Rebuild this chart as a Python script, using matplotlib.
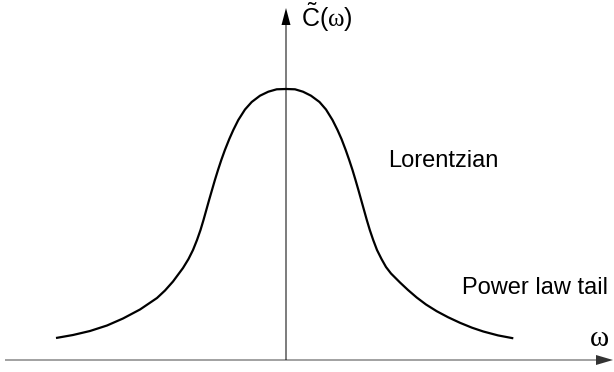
import matplotlib
matplotlib.use("Agg")
import matplotlib.pyplot as plt

# ------------------ Data (arbitrary units) ------------------
omega = [-2.30, -2.13, -1.96, -1.79, -1.63, -1.46, -1.29, -1.21, -1.13, -1.03,
         -0.975, -0.93, -0.89, -0.855, -0.825, -0.797, -0.769, -0.740, -0.711,
         -0.680, -0.647, -0.611, -0.567, -0.527, -0.477, -0.41, -0.343, -0.26,
         -0.177, -0.093, 0.00,
         0.09, 0.17, 0.25, 0.335, 0.40, 0.465, 0.515, 0.555, 0.597, 0.632,
         0.665, 0.695, 0.724, 0.752, 0.78, 0.808, 0.838, 0.872, 0.91, 0.955,
         1.00, 1.05, 1.14, 1.22, 1.307, 1.40, 1.507, 1.62, 1.74, 1.86, 1.973,
         2.12, 2.273]
C_tilde = [0.22, 0.25, 0.29, 0.345, 0.415, 0.505, 0.62, 0.695, 0.785, 0.92,
           1.01, 1.10, 1.20, 1.30, 1.40, 1.50, 1.60, 1.70, 1.80,
           1.90, 2.00, 2.10, 2.21, 2.30, 2.40, 2.505, 2.58, 2.643,
           2.683, 2.707, 2.71,
           2.707, 2.683, 2.643, 2.58, 2.505, 2.40, 2.30, 2.21, 2.10, 2.00,
           1.90, 1.80, 1.70, 1.60, 1.50, 1.40, 1.30, 1.20, 1.10, 1.01,
           0.93, 0.865, 0.775, 0.70, 0.625, 0.555, 0.488, 0.428, 0.372, 0.323, 0.285,
           0.246, 0.217]

label_lorentz = "Lorentzian"
label_tail = "Power law tail"
label_y = r"$\tilde{\mathrm{C}}\mathrm{(}\omega\mathrm{)}$"
label_x = r"$\omega$"

# ------------------ Style ------------------
plt.rcParams["font.family"] = ["Liberation Sans", "DejaVu Sans"]
plt.rcParams["mathtext.fontset"] = "custom"
plt.rcParams["mathtext.rm"] = "Liberation Sans"
plt.rcParams["mathtext.it"] = "Liberation Serif"
plt.rcParams["mathtext.default"] = "it"

fig = plt.figure(figsize=(6.14, 3.72), dpi=100)
ax = fig.add_axes([0, 0, 1, 1])
ax.set_xlim(-2.86, 3.28)
ax.set_ylim(-0.12, 3.60)
ax.axis("off")

# axes with arrow heads
ax.arrow(-2.81, 0, 6.08, 0, width=0.009, head_width=0.10, head_length=0.17,
         length_includes_head=True, fc="#333333", ec="none")
ax.arrow(0, 0, 0, 3.52, width=0.010, head_width=0.09, head_length=0.17,
         length_includes_head=True, fc="black", ec="none")

# the curve
ax.plot(omega, C_tilde, color="black", lw=1.6, solid_capstyle="butt",
        solid_joinstyle="round")

# labels
ax.text(1.02, 1.93, label_lorentz, fontsize=17, ha="left", va="baseline")
ax.text(1.76, 0.66, label_tail, fontsize=17, ha="left", va="baseline")
ax.text(0.15, 3.33, label_y, fontsize=18, ha="left", va="baseline")
ax.text(3.03, 0.14, label_x, fontsize=21, ha="left", va="baseline")

fig.savefig("out.png", dpi=100)
